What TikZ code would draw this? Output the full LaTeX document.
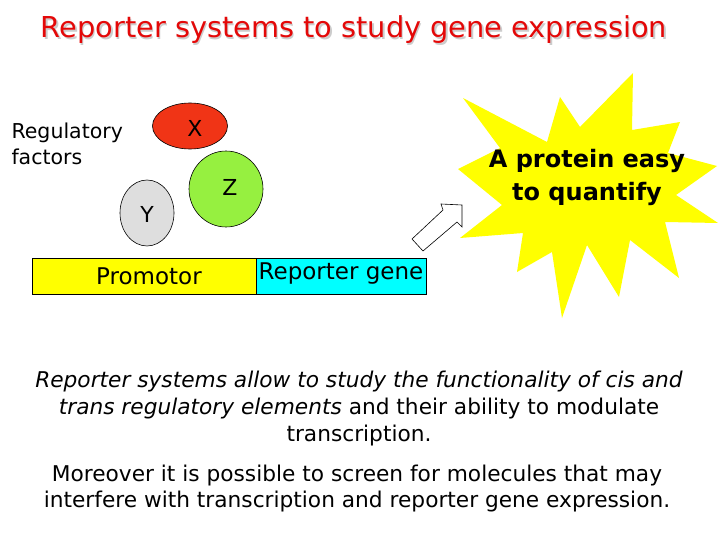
\documentclass[tikz,border=0pt]{standalone}
\usepackage{fontspec}
\setmainfont{DejaVu Sans}
\usetikzlibrary{shapes.geometric}
\definecolor{titlered}{RGB}{228,8,8}
\definecolor{xred}{RGB}{240,52,22}
\definecolor{zgreen}{RGB}{150,240,64}
\definecolor{ygray}{RGB}{222,222,222}
\definecolor{staryellow}{RGB}{255,255,0}
\definecolor{boxyellow}{RGB}{255,255,0}
\definecolor{boxcyan}{RGB}{0,255,255}
\tikzset{
  titletext/.style={font=\fontsize{28.8}{32}\selectfont},
  labeltext/.style={font=\fontsize{20.5}{26}\selectfont, align=left},
  factor/.style={ellipse, draw=black, line width=0.6pt, inner sep=0pt},
  factortext/.style={font=\fontsize{22}{24}\selectfont},
  genebox/.style={draw=black, line width=0.7pt, inner sep=0pt},
  boxtext/.style={font=\fontsize{23}{26}\selectfont},
  startext/.style={font=\bfseries\fontsize{24}{33}\selectfont, align=center},
  bodytext/.style={font=\fontsize{21.7}{27}\selectfont, align=center},
  bodytextb/.style={font=\fontsize{21.7}{26}\selectfont, align=center},
}
\begin{document}
\begin{tikzpicture}[x=1pt,y=-1pt]
\useasboundingbox[fill=white] (0,0) rectangle (720,540);
% title
\node[titletext, text=black!20] (titleshadow) at (355.5,31.5) {Reporter systems to study gene expression};
\node[titletext, text=titlered] (title) at (354,30) {Reporter systems to study gene expression};
% regulatory factors
\node[labeltext, anchor=west] (reglabel) at (8,144) {Regulatory\\factors};
\node[factor, fill=xred, minimum width=75pt, minimum height=46pt] (x) at (190,126) {};
\node[factortext] (xl) at (195,128) {X};
\node[factor, fill=zgreen, minimum width=74pt, minimum height=76pt] (z) at (226,189) {};
\node[factortext] (zl) at (230,187) {Z};
\node[factor, fill=ygray, minimum width=54pt, minimum height=66pt] (y) at (147,213) {};
\node[factortext] (yl) at (147,214) {Y};
% gene boxes
\node[genebox, fill=boxyellow, minimum width=224pt, minimum height=36pt] (prom) at (144,276) {};
\node[boxtext] (promt) at (149,276) {Promotor};
\node[genebox, fill=boxcyan, minimum width=170pt, minimum height=36pt] (rep) at (341,276) {};
\node[boxtext] (rept) at (341,274) {Reporter gene};
% starburst
\draw[fill=staryellow, draw=none] (463,98) -- (547,142) -- (560,97) -- (580,127) -- (633,73) -- (632,130) -- (680,122) -- (668,153) -- (717,166) -- (676,195) -- (718,223) -- (665,222) -- (679,278) -- (630,240) -- (619,297) -- (587,245) -- (562,318) -- (552,252) -- (517,272) -- (523,233) -- (460,238) -- (502,205) -- (458,169) -- (500,148) -- cycle;
\node[startext] (star) at (587,177) {A protein easy\\to quantify};
% hollow arrow
\draw[fill=white, draw=black, line width=0.6pt, line join=miter] (412,239) -- (443,210) -- (441,204) -- (462,205) -- (462,227) -- (457,222) -- (423,251) -- cycle;
% body text
\node[bodytext] (body1) at (359,409) {\textit{Reporter systems allow to study the functionality of cis and}\\\textit{trans regulatory elements} and their ability to modulate\\transcription.};
\node[bodytextb] (body2) at (357,489) {Moreover it is possible to screen for molecules that may\\interfere with transcription and reporter gene expression.};
\end{tikzpicture}
\end{document}
